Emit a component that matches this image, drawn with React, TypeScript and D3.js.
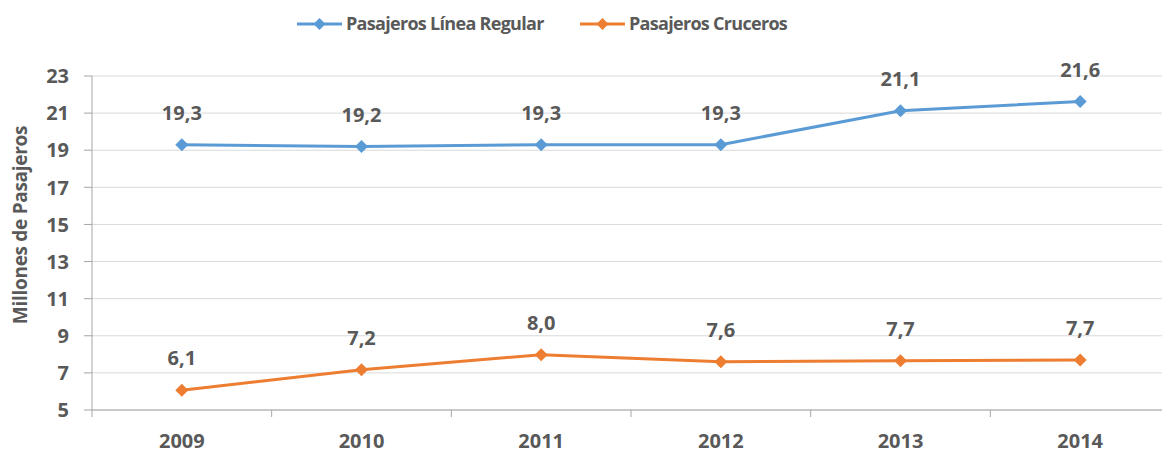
import React from 'react'
import * as d3 from 'd3'

const years = ['2009', '2010', '2011', '2012', '2013', '2014']
const regular = [19.3, 19.2, 19.3, 19.3, 21.13, 21.62]
const cruceros = [6.06, 7.17, 7.98, 7.6, 7.66, 7.7]
const yTicks = [5, 7, 9, 11, 13, 15, 17, 19, 21, 23]

const seriesNames = ['Pasajeros Línea Regular', 'Pasajeros Cruceros']
const colors = ['#5B9BD5', '#ED7D31']

const width = 1162
const height = 453
const margin = { left: 92, right: -8, top: 76, bottom: 43 }
const textColor = '#595959'
const font = "'Open Sans', 'Liberation Sans', sans-serif"

const fmt = (v: number) => d3.format('.1f')(v).replace('.', ',')

const diamond = (x: number, y: number, r: number) =>
  `M${x},${y - r}L${x + r},${y}L${x},${y + r}L${x - r},${y}Z`

export default function App() {
  const x = d3.scaleBand()
    .domain(years)
    .range([margin.left, width - margin.right])
  const y = d3.scaleLinear()
    .domain([5, 23])
    .range([height - margin.bottom, margin.top])

  const line = d3.line<number>()
    .x((_, i) => x(years[i])! + x.bandwidth() / 2)
    .y(d => y(d))

  const series = [regular, cruceros]
  const legendX = [297, 580]

  return (
    <svg width={width} height={height} style={{ position: 'absolute', left: 0, top: 0, background: '#fff' }}
      fontFamily={font}>
      {/* gridlines */}
      {yTicks.map(t => (
        <line key={t} x1={margin.left} x2={width - margin.right} y1={y(t)} y2={y(t)}
          stroke="#D9D9D9" strokeWidth={1} />
      ))}
      {/* y axis */}
      <line x1={margin.left} x2={margin.left} y1={y(23)} y2={y(5)} stroke="#A6A6A6" />
      {yTicks.map(t => (
        <g key={t}>
          <line x1={margin.left - 8} x2={margin.left} y1={y(t)} y2={y(t)} stroke="#A6A6A6" />
          <text x={69} y={y(t)} dy="0.36em" textAnchor="end" fontSize={20} fontWeight="bold" fill={textColor}>{t}</text>
        </g>
      ))}
      {/* x axis */}
      <line x1={margin.left} x2={width - margin.right} y1={y(5)} y2={y(5)} stroke="#A6A6A6" />
      {years.map(yr => (
        <line key={'t' + yr} x1={x(yr)!} x2={x(yr)!} y1={y(5)} y2={y(5) + 7} stroke="#A6A6A6" />
      ))}
      {years.map(yr => (
        <text key={yr} x={x(yr)! + x.bandwidth() / 2} y={448} textAnchor="middle" fontSize={20}
          fontWeight="bold" fill={textColor}>{yr}</text>
      ))}
      <text transform={`translate(27,225) rotate(-90)`} textAnchor="middle" fontSize={19} letterSpacing={-0.3}
        fontWeight="bold" fill={textColor}>Millones de Pasajeros</text>

      {/* lines */}
      {series.map((s, si) => (
        <g key={si}>
          <path d={line(s)!} fill="none" stroke={colors[si]} strokeWidth={3} />
          {s.map((v, i) => {
            const cx = x(years[i])! + x.bandwidth() / 2
            return (
              <g key={i}>
                <path d={diamond(cx, y(v), 6.5)} fill={colors[si]} />
                <text x={cx} y={y(v) - 25} textAnchor="middle" fontSize={20} fontWeight="bold"
                  fill={textColor}>{fmt(v)}</text>
              </g>
            )
          })}
        </g>
      ))}

      {/* legend */}
      {seriesNames.map((name, i) => (
        <g key={name}>
          <line x1={legendX[i]} x2={legendX[i] + 45} y1={24} y2={24} stroke={colors[i]} strokeWidth={3} />
          <path d={diamond(legendX[i] + 22.5, 24, 6)} fill={colors[i]} />
          <text x={legendX[i] + 49} y={24} dy="0.36em" fontSize={18} letterSpacing={-0.7} fontWeight="bold"
            fill={textColor}>{name}</text>
        </g>
      ))}
    </svg>
  )
}
